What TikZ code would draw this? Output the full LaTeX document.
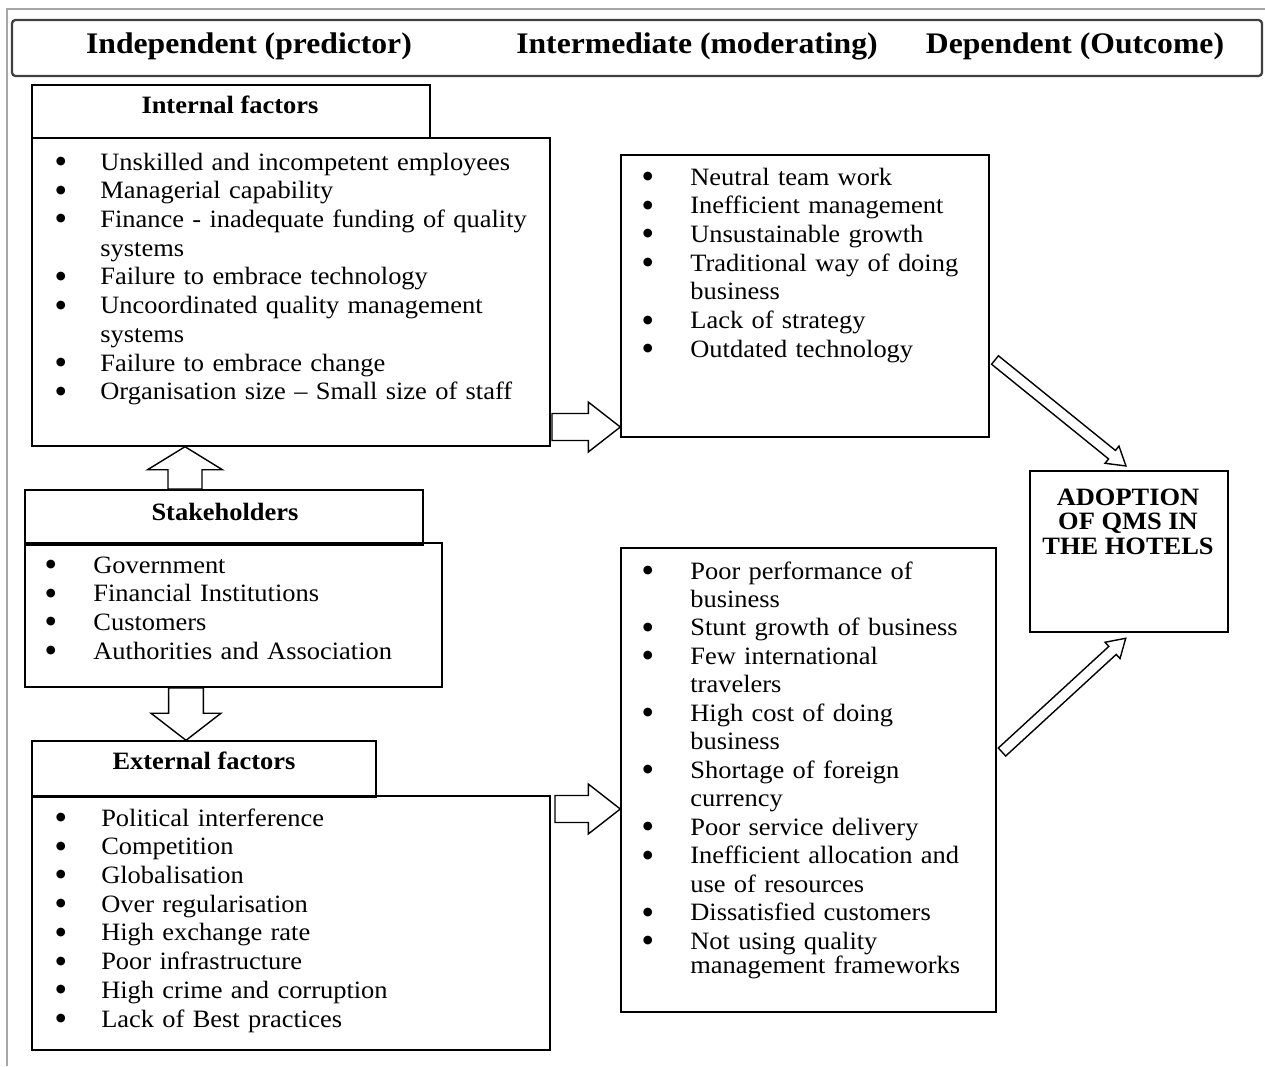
\documentclass[tikz,border=0pt]{standalone}
\usepackage{fontspec}
\setmainfont{Liberation Serif}[FakeStretch=1.06]
\newfontfamily\bulfont{DejaVu Sans}
\usetikzlibrary{calc,fit}

\newlength\bulw
\newcommand\bul{\makebox[\bulw][l]{\raisebox{\dimexpr4.8pt-.5\height+.5\depth\relax}{\bulfont\fontsize{6.5}{6.5}\selectfont ●}}}
\newcommand\cont{\hspace*{\bulw}}
% block arrow: start, tip, shaft half width, head half width, head length
\newcommand\blockarrow[5]{%
  \draw[blockarrow] let \p1=($(#2)-(#1)$), \n1={atan2(\y1,\x1)}, \n2={veclen(\x1,\y1)} in
    [shift={(#1)}, rotate=\n1]
    (0pt,#3) -- (\n2-#5,#3) -- (\n2-#5,#4) -- (\n2,0pt)
    -- (\n2-#5,-#4) -- (\n2-#5,-#3) -- (0pt,-#3) -- cycle;}

\tikzset{
  box/.style={draw, line width=0.8pt, inner sep=0pt},
  htext/.style={anchor=base, inner sep=0pt, font=\fontsize{17}{20}\selectfont\bfseries},
  ttext/.style={anchor=base, inner sep=0pt, font=\fontsize{14.2}{16}\selectfont\bfseries},
  lst/.style={anchor=base west, inner sep=0pt, text width=13cm, align=left},
  blockarrow/.style={draw, fill=white, line width=0.8pt, line join=miter}
}

\begin{document}
\begin{tikzpicture}[x=0.02cm, y=-0.02cm]
\useasboundingbox (0,0) rectangle (1265,1066);

% frame and header
\draw[gray!70, line width=1pt] (1265,9) -- (7,9) -- (7,1066);
\node[box, draw=gray!50!black, line width=1.3pt, rounded corners=2pt, fit={(12,20) (1262,76)}] (head) {};
\node[htext] (indep) at (249,53) {Independent (predictor)};
\node[htext] (inter) at (697,53) {Intermediate (moderating)};
\node[htext] (dep) at (1075,53) {Dependent (Outcome)};

% internal factors
\node[box, fit={(32,85) (430,138)}] (inthead) {};
\node[ttext] (intlab) at (230,113) {Internal factors};
\node[box, fit={(32,138) (550,446)}] (intbox) {};
\node[lst, font={\fontsize{14.2}{16.35}\selectfont\setlength\bulw{25.3pt}}] (intlist) at (55.6,170) {%
  \bul Unskilled and incompetent employees\\
  \bul Managerial capability\\
  \bul Finance - inadequate funding of quality\\
  \cont systems\\
  \bul Failure to embrace technology\\
  \bul Uncoordinated quality management\\
  \cont systems\\
  \bul Failure to embrace change\\
  \bul Organisation size -- Small size of staff};

% stakeholders
\node[box, fit={(25,490) (423,545)}] (stkhead) {};
\node[ttext] (stklab) at (225,520) {Stakeholders};
\node[box, fit={(25,543) (442,687)}] (stkbox) {};
\node[lst, font={\fontsize{14.2}{16.35}\selectfont\setlength\bulw{27pt}}] (stklist) at (45.6,573) {%
  \bul Government\\
  \bul Financial Institutions\\
  \bul Customers\\
  \bul Authorities and Association};

% external factors
\node[box, fit={(32,741) (376,797)}] (exthead) {};
\node[ttext] (extlab) at (204,769) {External factors};
\node[box, fit={(32,796) (550,1050)}] (extbox) {};
\node[lst, font={\fontsize{14.2}{16.35}\selectfont\setlength\bulw{25.8pt}}] (extlist) at (55.6,826) {%
  \bul Political interference\\
  \bul Competition\\
  \bul Globalisation\\
  \bul Over regularisation\\
  \bul High exchange rate\\
  \bul Poor infrastructure\\
  \bul High crime and corruption\\
  \bul Lack of Best practices};

% intermediate
\node[box, fit={(621,155) (989,437)}] (midtop) {};
\node[lst, font={\fontsize{14.2}{16.35}\selectfont\setlength\bulw{27pt}}] (toplist) at (642.6,185) {%
  \bul Neutral team work\\
  \bul Inefficient management\\
  \bul Unsustainable growth\\
  \bul Traditional way of doing\\
  \cont business\\
  \bul Lack of strategy\\
  \bul Outdated technology};
\node[box, fit={(621,548) (996,1012)}] (midlow) {};
\node[lst, font={\fontsize{14.2}{16.2}\selectfont\setlength\bulw{27pt}}] (lowlist) at (642.6,579) {%
  \bul Poor performance of\\
  \cont business\\
  \bul Stunt growth of business\\
  \bul Few international\\
  \cont travelers\\
  \bul High cost of doing\\
  \cont business\\
  \bul Shortage of foreign\\
  \cont currency\\
  \bul Poor service delivery\\
  \bul Inefficient allocation and\\
  \cont use of resources\\
  \bul Dissatisfied customers\\
  \bul Not using quality\\[-2pt]
  \cont management frameworks};

% dependent
\node[box, fit={(1030,471) (1228,632)}] (adopt) {};
\node[ttext, align=center, font=\fontsize{14.2}{13.9}\selectfont\bfseries] (adoptlab) at (1128,554) {ADOPTION\\OF QMS IN\\THE HOTELS};

% arrows
\coordinate (r1s) at (552,427);
\coordinate (r1e) at (midtop.west |- r1s);
\coordinate (r2s) at (555,809);
\coordinate (r2e) at (midlow.west |- r2s);
\coordinate (ups) at (185,489);
\coordinate (upe) at (intbox.south -| ups);
\coordinate (dns) at (186,688);
\coordinate (dne) at (exthead.north -| dns);
\coordinate (d1s) at (995,360);
\coordinate (d1e) at (1126,466);
\coordinate (d2s) at (1002,752);
\coordinate (d2e) at (1126,638);
\blockarrow{r1s}{r1e}{7.7pt}{14.2pt}{18.2pt}
\blockarrow{r2s}{r2e}{7.7pt}{14.2pt}{18.2pt}
\blockarrow{ups}{upe}{9.7pt}{21.3pt}{13.1pt}
\blockarrow{dns}{dne}{9.9pt}{19.9pt}{15.4pt}
\blockarrow{d1s}{d1e}{3.1pt}{6.3pt}{10.2pt}
\blockarrow{d2s}{d2e}{3.1pt}{6.3pt}{10.2pt}

\end{tikzpicture}
\end{document}
